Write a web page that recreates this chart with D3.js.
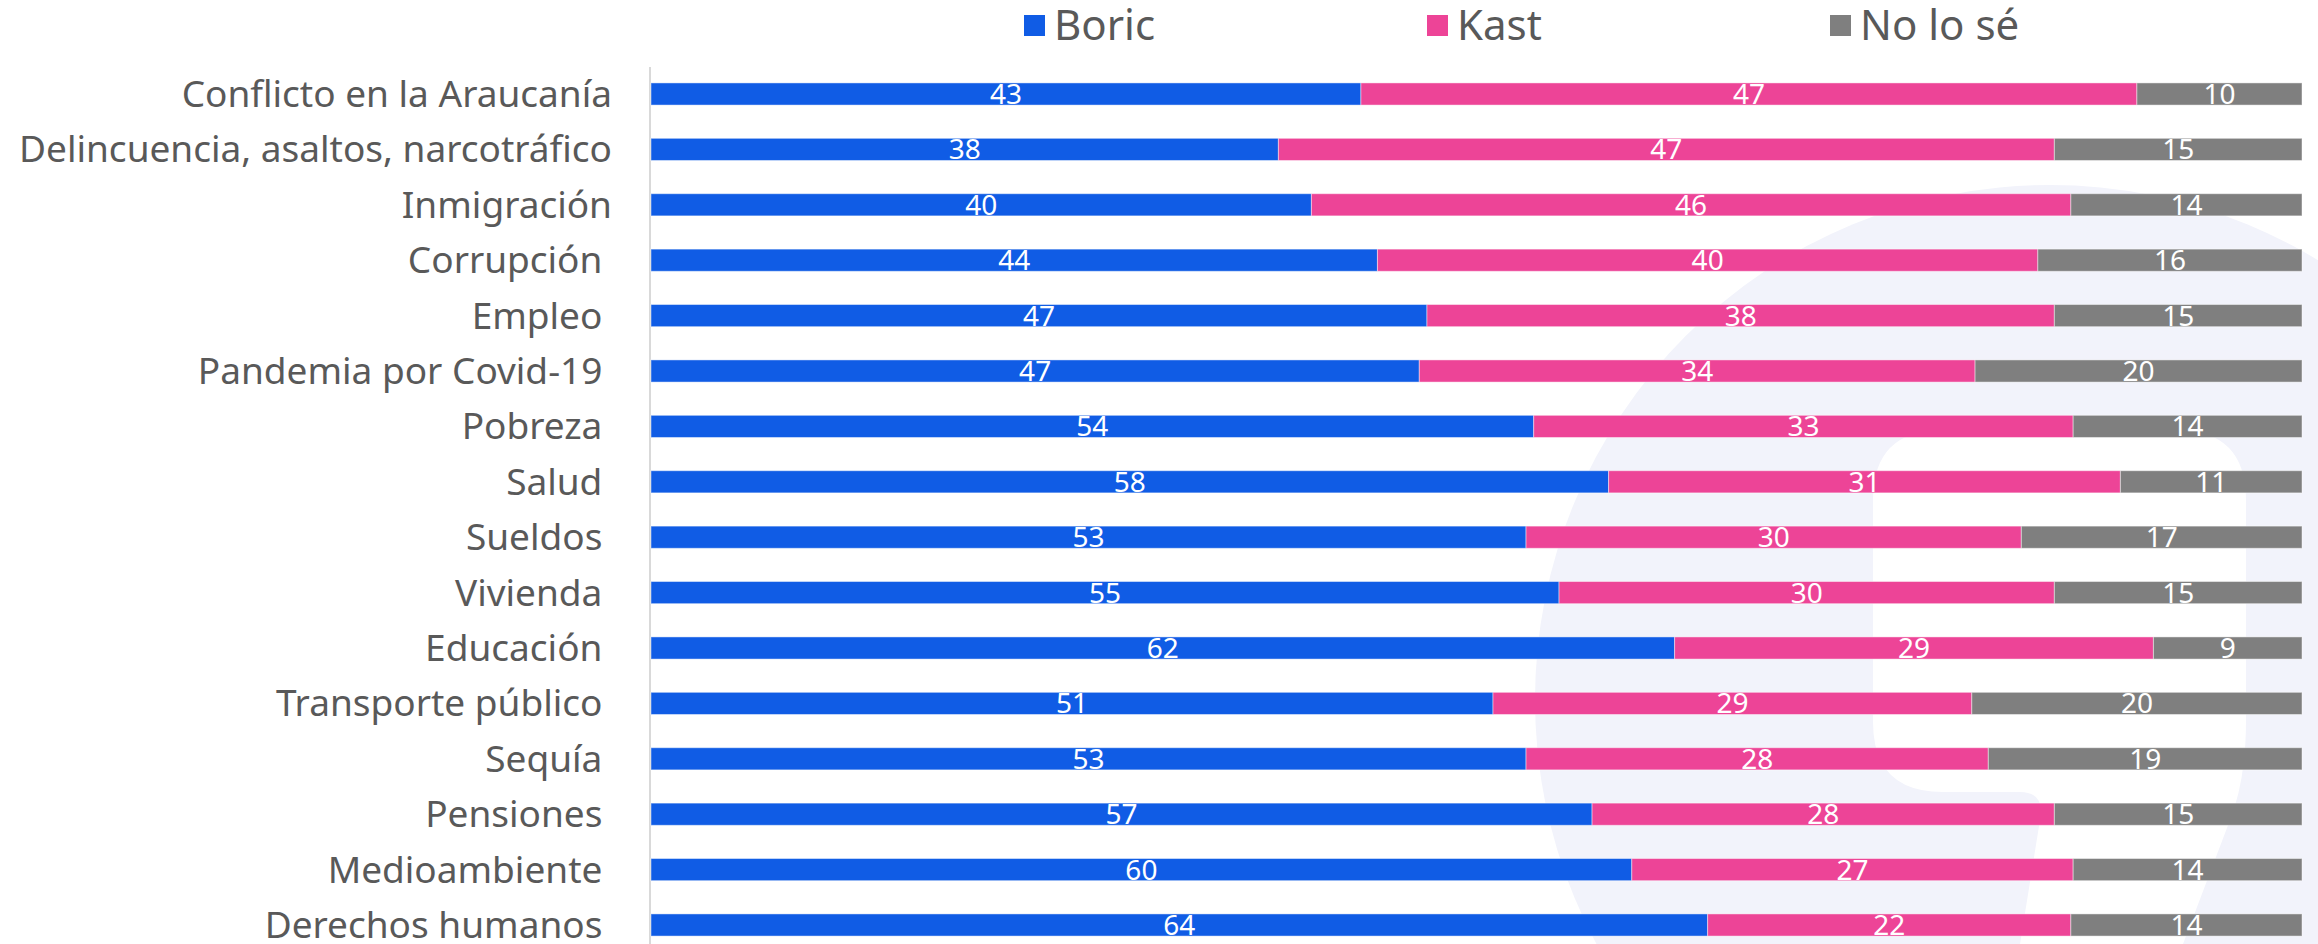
<!DOCTYPE html>
<html>
<head>
<meta charset="utf-8">
<script src="https://cdn.jsdelivr.net/npm/d3@7"></script>
<style>
  body { margin: 0; background: #fff; }
  svg { display: block; overflow: hidden; }
  text { font-family: "Noto Sans", sans-serif; }
</style>
</head>
<body>
<div id="chart"></div>
<script>
// data
var categories = [
  "Conflicto en la Araucanía",
  "Delincuencia, asaltos, narcotráfico",
  "Inmigración",
  "Corrupción ",
  "Empleo ",
  "Pandemia por Covid-19 ",
  "Pobreza ",
  "Salud ",
  "Sueldos ",
  "Vivienda ",
  "Educación ",
  "Transporte público ",
  "Sequía ",
  "Pensiones ",
  "Medioambiente ",
  "Derechos humanos "
];
var seriesNames = ["Boric", "Kast", "No lo sé"];
var boric  = [43, 38, 40, 44, 47, 47, 54, 58, 53, 55, 62, 51, 53, 57, 60, 64];
var kast   = [47, 47, 46, 40, 38, 34, 33, 31, 30, 30, 29, 29, 28, 28, 27, 22];
var nolose = [10, 15, 14, 16, 15, 20, 14, 11, 17, 15,  9, 20, 19, 15, 14, 14];
var colors = ["#105ce5", "#ed4497", "#7f7f7f"];

var W = 2318, H = 944;

var rows = categories.map(function(c, i) {
  return {cat: c, "Boric": boric[i], "Kast": kast[i], "No lo sé": nolose[i]};
});

var svg = d3.select("#chart").append("svg")
    .attr("width", W)
    .attr("height", H);

// faint logo in the background
var wm = svg.append("g");
wm.append("circle")
    .attr("cx", 2050).attr("cy", 700).attr("r", 515)
    .attr("fill", "#f2f3fb");
wm.append("path")
    .attr("d", "M1943,430 L2176,430 Q2246,430 2246,500 L2246,720 Q2246,780 2230,820 L2183,944 " +
               "L2020,944 L2040,820 Q2045,792 2020,792 L1943,792 Q1873,792 1873,722 " +
               "L1873,500 Q1873,430 1943,430 Z")
    .attr("fill", "#fff");

// scales
var x = d3.scaleLinear()
    .domain([0, 1])
    .range([651, 2302]);
var y = d3.scaleBand()
    .domain(categories)
    .range([66.3, 952.7])
    .paddingInner(0.6)
    .paddingOuter(0.3);
var color = d3.scaleOrdinal()
    .domain(seriesNames)
    .range(colors);

var stack = d3.stack()
    .keys(seriesNames)
    .offset(d3.stackOffsetExpand);
var series = stack(rows);

// axis line on the left
svg.append("line")
    .attr("x1", 650).attr("x2", 650)
    .attr("y1", 67).attr("y2", H)
    .attr("stroke", "#d9d9d9")
    .attr("stroke-width", 2);

// category labels
svg.append("g").selectAll("text")
    .data(categories)
  .enter().append("text")
    .attr("x", 612)
    .attr("y", function(d) { return y(d) + y.bandwidth() / 2 + 13; })
    .attr("text-anchor", "end")
    .attr("font-size", "37px")
    .attr("fill", "#595959")
    .style("white-space", "pre")
    .text(function(d) { return d; });

// bars
var groups = svg.append("g").selectAll("g")
    .data(series)
  .enter().append("g")
    .attr("fill", function(d) { return color(d.key); });

groups.selectAll("rect")
    .data(function(d) { return d; })
  .enter().append("rect")
    .attr("x", function(d) { return x(d[0]); })
    .attr("width", function(d) { return x(d[1]) - x(d[0]); })
    .attr("y", function(d) { return y(d.data.cat); })
    .attr("height", y.bandwidth())
    .attr("stroke", "#fff")
    .attr("stroke-opacity", 0.45)
    .attr("stroke-width", 1);

// value labels
groups.selectAll("text")
    .data(function(s) { return s.map(function(d) { return {d: d, key: s.key}; }); })
  .enter().append("text")
    .attr("x", function(o) { return (x(o.d[0]) + x(o.d[1])) / 2; })
    .attr("y", function(o) { return y(o.d.data.cat) + y.bandwidth() / 2 + 10; })
    .attr("text-anchor", "middle")
    .attr("font-size", "28px")
    .attr("fill", "#fff")
    .text(function(o) { return o.d.data[o.key]; });

// legend
var legend = svg.append("g").selectAll("g")
    .data(seriesNames)
  .enter().append("g")
    .attr("transform", function(d, i) { return "translate(" + (1024 + i * 403) + ",0)"; });

legend.append("rect")
    .attr("x", 0).attr("y", 15)
    .attr("width", 21).attr("height", 21)
    .attr("fill", function(d) { return color(d); });

legend.append("text")
    .attr("x", 30).attr("y", 40)
    .attr("font-size", "42px")
    .attr("fill", "#595959")
    .text(function(d) { return d; });
</script>
</body>
</html>
